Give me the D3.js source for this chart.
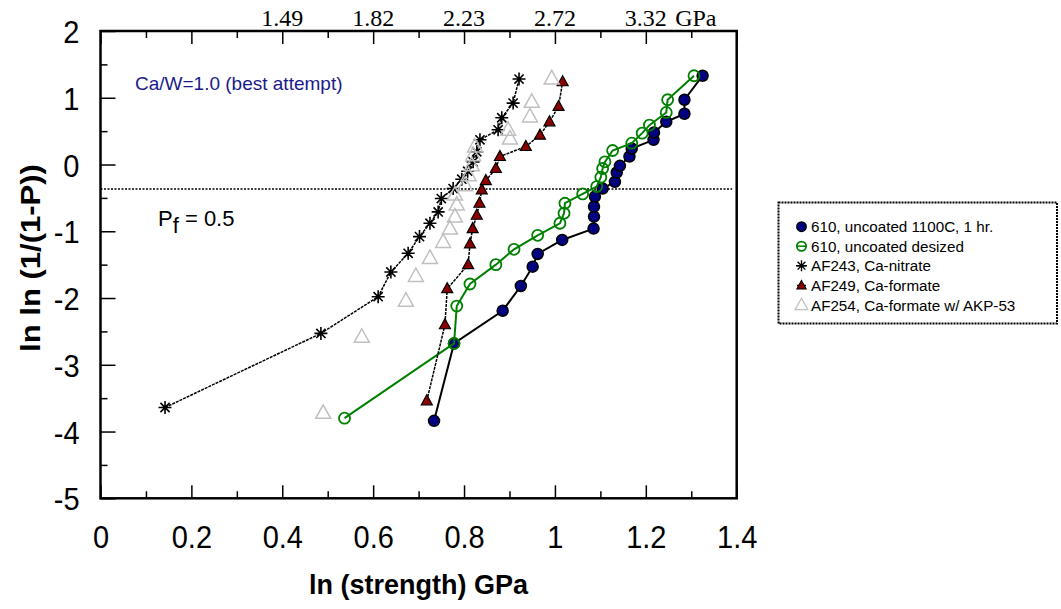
<!DOCTYPE html>
<html><head><meta charset="utf-8">
<script src="https://cdn.jsdelivr.net/npm/d3@7"></script>
<style>body{margin:0;background:#fff}svg{display:block}</style>
</head><body><svg id="c" width="1061" height="609"></svg>
<script>
// ---------- data ----------
const xMajorTicks = [0, 0.2, 0.4, 0.6, 0.8, 1, 1.2, 1.4];
const xMinorTicks = [0.1, 0.3, 0.5, 0.7, 0.9, 1.1, 1.3];
const yMajorTicks = [2, 1, 0, -1, -2, -3, -4, -5];
const yMinorTicks = [1.5, 0.5, -0.5, -1.5, -2.5, -3.5, -4.5];
const topLabels = ["1.49", "1.82", "2.23", "2.72", "3.32", "GPa"];
const topLabelPos = [0.4, 0.6, 0.8, 1.0, 1.2, 1.31];
const pfLine = -0.3665;
const legendNames = ["610, uncoated 1100C, 1 hr.", "610, uncoated desized", "AF243, Ca-nitrate", "AF249, Ca-formate", "AF254, Ca-formate w/ AKP-53"];

const s610_1100C = [[0.734,-3.84],[0.778,-2.68],[0.885,-2.19],[0.925,-1.82],[0.951,-1.53],[0.962,-1.34],[1.016,-1.13],[1.085,-0.96],[1.086,-0.78],[1.086,-0.63],[1.088,-0.48],[1.105,-0.36],[1.132,-0.26],[1.136,-0.12],[1.143,-0.02],[1.164,0.12],[1.169,0.24],[1.217,0.37],[1.218,0.48],[1.245,0.64],[1.285,0.76],[1.285,0.97],[1.325,1.33]];
const s610_desized = [[0.537,-3.80],[0.778,-2.68],[0.784,-2.12],[0.813,-1.79],[0.870,-1.50],[0.910,-1.27],[0.962,-1.06],[1.011,-0.88],[1.020,-0.73],[1.022,-0.58],[1.061,-0.44],[1.092,-0.33],[1.101,-0.19],[1.105,-0.06],[1.110,0.04],[1.127,0.21],[1.169,0.32],[1.192,0.47],[1.208,0.59],[1.245,0.78],[1.248,0.97],[1.306,1.33]];
const sAF243 = [[0.142,-3.64],[0.485,-2.53],[0.611,-1.98],[0.639,-1.61],[0.677,-1.33],[0.702,-1.08],[0.725,-0.88],[0.743,-0.71],[0.750,-0.51],[0.776,-0.36],[0.795,-0.22],[0.808,-0.10],[0.820,0.04],[0.828,0.19],[0.835,0.37],[0.875,0.52],[0.883,0.70],[0.908,0.92],[0.921,1.28]];
const sAF249 = [[0.718,-3.54],[0.758,-2.40],[0.763,-1.86],[0.809,-1.50],[0.813,-1.19],[0.819,-0.96],[0.828,-0.76],[0.834,-0.58],[0.839,-0.38],[0.848,-0.24],[0.870,-0.06],[0.879,0.12],[0.936,0.27],[0.967,0.44],[0.988,0.64],[1.008,0.87],[1.017,1.24]];
const sAF254 = [[0.490,-3.72],[0.575,-2.58],[0.672,-2.04],[0.694,-1.67],[0.725,-1.40],[0.754,-1.16],[0.769,-0.96],[0.780,-0.78],[0.784,-0.60],[0.780,-0.45],[0.802,-0.31],[0.810,-0.16],[0.817,-0.01],[0.820,0.14],[0.824,0.27],[0.901,0.39],[0.897,0.52],[0.945,0.72],[0.949,0.94],[0.993,1.29]];

// ---------- layout ----------
const L = 100.5, R = 736.7, T = 31, B = 498.3;
const svg = d3.select("#c");
const x = d3.scaleLinear().domain([0, 1.4]).range([L, R]);
const y = d3.scaleLinear().domain([-5, 2]).range([B, T]);
const sans = "Arial, 'Liberation Sans', sans-serif";

function styleAxis(g){ g.select(".domain").remove(); g.selectAll(".tick line").attr("stroke","#000").attr("stroke-width",1.5); }
const fmt = d => String(d);

const gB = svg.append("g").attr("transform",`translate(0,${B})`)
  .call(d3.axisBottom(x).tickValues(xMajorTicks).tickSize(-13).tickSizeOuter(0).tickFormat(fmt));
styleAxis(gB);
gB.selectAll(".tick text").attr("y",0).attr("dy",null).attr("transform","translate(0,50) scale(1,1.1)")
  .attr("font-family",sans).attr("font-size",29).attr("fill","#000");
const gBm = svg.append("g").attr("transform",`translate(0,${B})`)
  .call(d3.axisBottom(x).tickValues(xMinorTicks).tickSize(-7).tickSizeOuter(0).tickFormat(""));
styleAxis(gBm);

const gT = svg.append("g").attr("transform",`translate(0,${T})`)
  .call(d3.axisTop(x).tickValues(xMajorTicks).tickSize(-13).tickSizeOuter(0).tickFormat(""));
styleAxis(gT);
const gTm = svg.append("g").attr("transform",`translate(0,${T})`)
  .call(d3.axisTop(x).tickValues(xMinorTicks).tickSize(-7).tickSizeOuter(0).tickFormat(""));
styleAxis(gTm);

const gL = svg.append("g").attr("transform",`translate(${L},0)`)
  .call(d3.axisLeft(y).tickValues(yMajorTicks).tickSize(-15).tickSizeOuter(0).tickFormat(fmt));
styleAxis(gL);
gL.selectAll(".tick text").attr("x",0).attr("dy","0.36em").attr("transform","translate(-21,0) scale(1,1.1)")
  .attr("font-family",sans).attr("font-size",29).attr("fill","#000");
const gLm = svg.append("g").attr("transform",`translate(${L},0)`)
  .call(d3.axisLeft(y).tickValues(yMinorTicks).tickSize(-7).tickSizeOuter(0).tickFormat(""));
styleAxis(gLm);

// top secondary labels
svg.append("g").selectAll("text").data(topLabels).join("text")
  .attr("x",(d,i)=>x(topLabelPos[i])).attr("y",26)
  .attr("text-anchor","middle").attr("font-family","'Times New Roman','Liberation Serif',serif")
  .attr("font-size",24).attr("fill","#000").text(d=>d);

// frame
svg.append("rect").attr("x",L).attr("y",T).attr("width",R-L).attr("height",B-T)
  .attr("fill","none").attr("stroke","#000").attr("stroke-width",2.5);

// P=0.5 line
svg.append("line").attr("x1",x(0)).attr("x2",x(1.39)).attr("y1",y(pfLine)).attr("y2",y(pfLine))
  .attr("stroke","#000").attr("stroke-width",1.5).attr("stroke-dasharray","2,1.5");

// titles
svg.append("text").attr("x",(L+R)/2).attr("y",594).attr("text-anchor","middle")
  .attr("font-family",sans).attr("font-weight","bold").attr("font-size",27).text("ln (strength) GPa");
svg.append("text").attr("transform","translate(40,258) rotate(-90) scale(1.15,1)").attr("text-anchor","middle")
  .attr("font-family",sans).attr("font-weight","bold").attr("font-size",27).text("ln ln (1/(1-P))");

// annotations
svg.append("text").attr("x",135).attr("y",90).attr("font-family",sans).attr("font-size",19)
  .attr("fill","#1a1a8c").text("Ca/W=1.0 (best attempt)");
const pf = svg.append("text").attr("x",158).attr("y",226).attr("font-family",sans).attr("font-size",22).attr("fill","#000");
pf.append("tspan").text("P");
pf.append("tspan").attr("dy",7).text("f");
pf.append("tspan").attr("dy",-7).text(" = 0.5");

// markers
function marker(g, type, cx, cy, k){
  k = k || 1;
  if(type==="fillcircle"){
    g.append("circle").attr("cx",cx).attr("cy",cy).attr("r",5.5*k).attr("fill","#000080").attr("stroke","#000").attr("stroke-width",1.5);
  } else if(type==="opencircle"){
    g.append("circle").attr("cx",cx).attr("cy",cy).attr("r",5.5*k).attr("fill","none").attr("stroke","#008000").attr("stroke-width",1.8);
  } else if(type==="star"){
    g.append("path").attr("transform",`translate(${cx},${cy}) scale(${k})`)
      .attr("d","M-6.5,0H6.5M0,-6.5V6.5M-4.6,-4.6L4.6,4.6M-4.6,4.6L4.6,-4.6")
      .attr("stroke","#000").attr("stroke-width",1.6).attr("fill","none");
  } else if(type==="redtri"){
    g.append("path").attr("transform",`translate(${cx},${cy}) scale(${k})`)
      .attr("d","M0,-6L5.5,4L-5.5,4Z").attr("fill","#8b0000").attr("stroke","#000").attr("stroke-width",1.2);
  } else if(type==="graytri"){
    g.append("path").attr("transform",`translate(${cx},${cy}) scale(${k})`)
      .attr("d","M0,-8L7.5,5.5L-7.5,5.5Z").attr("fill","none").attr("stroke","#c0c0c0").attr("stroke-width",1.5);
  }
}

const series = [
  {data:s610_1100C, marker:"fillcircle", line:{stroke:"#000", w:2, dash:null}},
  {data:s610_desized, marker:"opencircle", line:{stroke:"#008000", w:2, dash:null}},
  {data:sAF243, marker:"star", line:{stroke:"#000", w:1.5, dash:"3,1"}},
  {data:sAF249, marker:"redtri", line:{stroke:"#000", w:1.5, dash:"3,1"}},
  {data:sAF254, marker:"graytri", line:null}
];
const lineGen = d3.line().x(d=>x(d[0])).y(d=>y(d[1]));
series.forEach(s=>{
  const g = svg.append("g");
  if(s.line){
    g.append("path").attr("d",lineGen(s.data)).attr("fill","none")
      .attr("stroke",s.line.stroke).attr("stroke-width",s.line.w)
      .attr("stroke-dasharray",s.line.dash);
  }
  s.data.forEach(d=>marker(g, s.marker, x(d[0]), y(d[1])));
});

// legend
const lg = svg.append("g");
lg.append("rect").attr("x",778.5).attr("y",202.5).attr("width",278.5).attr("height",121)
  .attr("fill","#fff").attr("stroke","#000").attr("stroke-width",2).attr("stroke-dasharray","2,1");
const rowY = [226.7, 246.2, 265.7, 285.5, 305];
legendNames.forEach((n,i)=>{
  const s = series[i];
  if(s.line){
    lg.append("line").attr("x1",797).attr("x2",806).attr("y1",rowY[i]).attr("y2",rowY[i])
      .attr("stroke",s.line.stroke).attr("stroke-width",1.5);
  }
  marker(lg, s.marker, 801.5, rowY[i], 0.85);
  lg.append("text").attr("x",811).attr("y",rowY[i]+5.5).attr("font-family",sans)
    .attr("font-size",15.2).attr("fill","#000").text(n);
});
</script></body></html>
